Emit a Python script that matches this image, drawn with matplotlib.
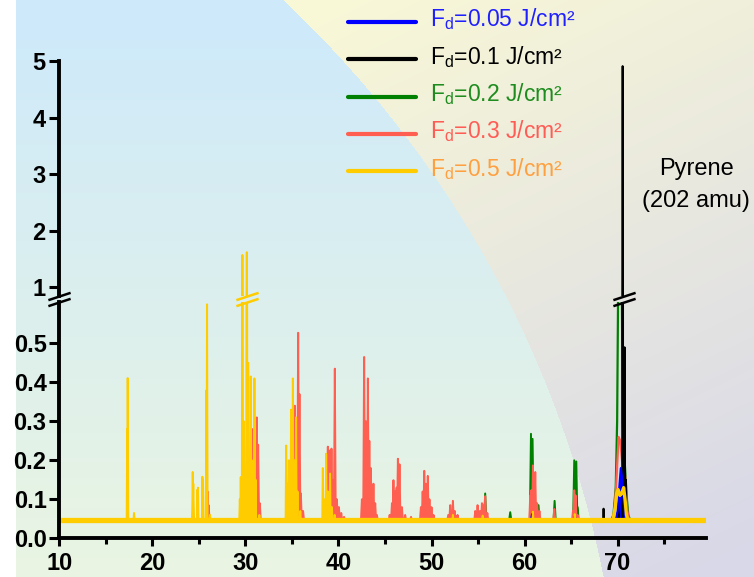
import numpy as np
import matplotlib
matplotlib.use("Agg")
import matplotlib.pyplot as plt

plt.rcParams['font.family'] = ['Liberation Sans', 'DejaVu Sans']
plt.rcParams['mathtext.fontset'] = 'custom'
plt.rcParams['mathtext.rm'] = 'Liberation Sans'

# ---- data ----
mass_range = [10, 79.5]

# narrow peaks: (mass, intensity)
blue_peaks = [(29.7, 0.058), (30.0, 0.062), (30.4, 0.057), (30.9, 0.055),
              (34.4, 0.056), (34.9, 0.06), (35.3, 0.057), (38.6, 0.06), (39.0, 0.06),
              (60.8, 0.062), (65.4, 0.057)]

black_peaks = [(68.49, 0.076), (70.1, 0.09), (70.54, 4.91), (70.75, 0.49), (70.9, 0.15)]

green_peaks = [(43.0, 0.08), (43.35, 0.072), (43.6, 0.065), (55.77, 0.115), (58.46, 0.067),
               (60.69, 0.268), (60.86, 0.255), (60.97, 0.13), (61.5, 0.085), (63.23, 0.096),
               (65.34, 0.2), (65.56, 0.197), (65.7, 0.08)]

red_peaks = [(25.94, 0.12), (26.05, 0.085),
             (30.3, 0.2), (30.75, 0.28), (31.23, 0.31), (31.37, 0.24), (31.55, 0.09),
             (35.31, 0.34), (35.67, 0.527), (35.81, 0.37), (35.96, 0.115), (36.2, 0.07),
             (38.86, 0.235), (39.03, 0.225), (39.25, 0.23), (39.45, 0.15), (39.61, 0.435),
             (39.83, 0.1), (40.05, 0.08), (40.3, 0.065), (40.6, 0.055),
             (42.52, 0.1), (42.76, 0.465), (42.95, 0.3), (43.16, 0.41), (43.32, 0.25),
             (43.48, 0.18), (43.76, 0.14), (43.95, 0.09), (44.13, 0.06),
             (45.5, 0.06), (45.75, 0.09), (45.91, 0.149), (46.1, 0.12), (46.25, 0.13),
             (46.39, 0.204), (46.56, 0.19), (46.82, 0.08), (47.17, 0.06), (47.8, 0.055),
             (48.86, 0.08), (49.05, 0.12), (49.22, 0.173), (49.4, 0.14), (49.6, 0.16),
             (49.78, 0.1), (50.0, 0.08), (50.22, 0.06),
             (51.8, 0.06), (52.01, 0.085), (52.3, 0.096), (52.5, 0.07), (52.8, 0.06),
             (54.7, 0.07), (54.95, 0.085), (55.2, 0.07), (55.42, 0.09), (55.6, 0.085),
             (55.77, 0.108), (56.0, 0.065),
             (60.61, 0.11), (60.72, 0.123), (60.9, 0.187), (61.15, 0.17), (61.35, 0.09), (61.6, 0.07),
             (63.2, 0.075),
             (65.2, 0.07), (65.34, 0.123), (65.48, 0.11), (65.7, 0.06)]

yellow_peaks = [(17.3, 0.28), (17.35, 0.411), (18.03, 0.065),
                (24.34, 0.17), (24.4, 0.14), (24.85, 0.125), (24.9, 0.13), (25.38, 0.158),
                (25.45, 0.15), (25.82, 0.38), (25.88, 0.6), (26.2, 0.06),
                (29.4, 0.1), (29.5, 0.157), (29.68, 1.57), (29.85, 0.3), (30.15, 1.62),
                (30.3, 0.45), (30.58, 0.415), (30.7, 0.2), (30.97, 0.41), (31.1, 0.15), (31.5, 0.06),
                (34.38, 0.238), (34.5, 0.14), (34.67, 0.2), (34.91, 0.33), (35.1, 0.41),
                (35.25, 0.2), (35.45, 0.31), (35.6, 0.12), (35.9, 0.07),
                (38.32, 0.18), (38.45, 0.1), (38.68, 0.217), (38.85, 0.12), (39.1, 0.166),
                (39.3, 0.08), (39.6, 0.06),
                (52.3, 0.06), (55.5, 0.058), (60.9, 0.068), (65.4, 0.062)]

# pyrene region traced as a profile: (mass, intensity)
blue_pyrene = [(69.8, 0.047), (70.0, 0.07), (70.15, 0.12), (70.35, 0.18), (70.5, 0.15),
               (70.65, 0.1), (70.8, 0.05), (70.9, 0.047)]
green_pyrene = [(69.3, 0.046), (69.55, 0.06), (69.8, 0.13), (69.95, 0.3), (70.06, 0.65),
                (70.45, 0.65), (70.55, 0.3), (70.7, 0.22), (70.85, 0.16), (71.0, 0.1),
                (71.15, 0.06), (71.35, 0.046)]
red_pyrene = [(69.5, 0.046), (69.7, 0.08), (69.85, 0.14), (69.98, 0.2), (70.11, 0.26),
              (70.29, 0.25), (70.47, 0.2), (70.65, 0.18), (70.82, 0.16), (70.95, 0.1),
              (71.05, 0.07), (71.25, 0.046)]
yellow_pyrene = [(69.5, 0.046), (69.75, 0.08), (69.9, 0.115), (70.05, 0.125), (70.25, 0.11),
                 (70.45, 0.115), (70.65, 0.13), (70.8, 0.1), (70.95, 0.06), (71.1, 0.046)]

labels = [r'F$_\mathregular{d}$=0.05 J/cm²', r'F$_\mathregular{d}$=0.1 J/cm²',
          r'F$_\mathregular{d}$=0.2 J/cm²', r'F$_\mathregular{d}$=0.3 J/cm²',
          r'F$_\mathregular{d}$=0.5 J/cm²']
line_colors = ['#0000ff', '#000000', '#008000', '#ff5f50', '#ffcc00']
text_colors = ['#2020ff', '#000000', '#1e8c1e', '#ff5c55', '#ffa040']
baselines = [0.0465, 0.046, 0.046, 0.046, 0.046]
half_widths = [0.12, 0.05, 0.12, 0.1, 0.06]
all_peaks = [blue_peaks, black_peaks, green_peaks, red_peaks, yellow_peaks]
all_pyrene = [blue_pyrene, None, green_pyrene, red_pyrene, yellow_pyrene]

low_yticks = [0.0, 0.1, 0.2, 0.3, 0.4, 0.5]
high_yticks = [1, 2, 3, 4, 5]
xticks_major = [10, 20, 30, 40, 50, 60, 70]
xticks_minor = [15, 25, 35, 45, 55, 65, 75]


def spectrum(peaks, base, hw):
    xs = [mass_range[0]]
    ys = [base]
    for m, h in sorted(peaks):
        xs += [m - hw, m, m + hw]
        ys += [base, h, base]
    xs.append(mass_range[1])
    ys.append(base)
    return xs, ys


W, H = 754, 577
fig = plt.figure(figsize=(W / 100, H / 100), dpi=100)

# background: blue/green on the left, yellow/grey beyond a big arc
bg = fig.add_axes([0, 0, 1, 1], zorder=0)
yy, xx = np.mgrid[0:H, 0:W]
inside = (xx + 457) ** 2 + (yy - 788) ** 2 < 1081 ** 2
t = (yy / H)[..., None]
left_col = (1 - t) * np.array([205, 233, 251]) + t * np.array([234, 245, 226])
s = np.clip((xx - 280) / (W - 280) * 0.3 + yy / H * 0.75, 0, 1)[..., None]
right_col = (1 - s) * np.array([250, 249, 214]) + s * np.array([216, 216, 232])
img = np.where(inside[..., None], left_col, right_col)
img[:, :16] = 255
bg.imshow(img.astype(np.uint8), extent=[0, 1, 0, 1], aspect='auto')
bg.axis('off')

left, width = 59.3 / W, 646.7 / W
ax_bot = fig.add_axes([left, (H - 538.3) / H, width, (538.3 - 302) / H], zorder=2)
ax_top = fig.add_axes([left, (H - 296) / H, width, (296 - 61) / H], zorder=2)

order = [2, 3, 1, 0, 4]
base_lw = [3.4, 1.5, 1.5, 1.8, 3.8]
for ax in (ax_bot, ax_top):
    ax.set_facecolor('none')
    for i in order:
        c = line_colors[i]
        xs, ys = spectrum(all_peaks[i], baselines[i], half_widths[i])
        if i in (0, 3):
            ax.fill(xs, ys, color=c, lw=0)
        ax.plot(mass_range, [baselines[i]] * 2, color=c, lw=base_lw[i])
        ax.plot(xs, ys, color=c, lw=1.4)
        prof = all_pyrene[i]
        if prof is not None:
            px = [p[0] for p in prof]
            py = [p[1] for p in prof]
            if i == 0:
                ax.fill(px, py, color=c, lw=0)
            ax.plot(px, py, color=c, lw=1.6 if i != 4 else 2.4)
    ax.set_xlim(mass_range)
    for sp in ('top', 'right'):
        ax.spines[sp].set_visible(False)
    ax.spines['left'].set_linewidth(2.8)

ax_bot.set_ylim(0, 0.606)
ax_top.set_ylim(0.846, 5.0)

ax_bot.spines['bottom'].set_linewidth(2.8)
ax_bot.set_xticks(xticks_major, labels=[str(v) for v in xticks_major], fontweight='bold', fontsize=17)
ax_bot.set_xticks(xticks_minor, minor=True)
ax_bot.set_yticks(low_yticks, labels=['%.1f' % v for v in low_yticks], fontweight='bold', fontsize=17)
ax_bot.tick_params(axis='x', which='major', length=6, width=2.2, pad=4)
ax_bot.tick_params(axis='x', which='minor', length=4.3, width=2.2)
ax_bot.tick_params(axis='y', which='major', length=7.5, width=2.2, pad=1.7)

ax_top.spines['bottom'].set_visible(False)
ax_top.set_xticks([])
ax_top.set_yticks(high_yticks, labels=[str(v) for v in high_yticks], fontweight='bold', fontsize=17)
ax_top.tick_params(axis='y', which='major', length=7.5, width=2.2, pad=2.5)

# break marks
mk = dict(marker=[(-1, -0.33), (1, 0.33)], markersize=16, linestyle='none',
          mew=1.8, clip_on=False, zorder=5)
ax_top.plot([0], [0], transform=ax_top.transAxes, color='k', mec='k', **mk)
ax_bot.plot([0], [1], transform=ax_bot.transAxes, color='k', mec='k', **mk)
ax_top.plot([30.2], [0], transform=ax_top.get_xaxis_transform(), mec=line_colors[4], **mk)
ax_bot.plot([30.2], [1], transform=ax_bot.get_xaxis_transform(), mec=line_colors[4], **mk)
ax_top.plot([70.65], [0], transform=ax_top.get_xaxis_transform(), mec='k', **mk)
ax_bot.plot([70.65], [1], transform=ax_bot.get_xaxis_transform(), mec='k', **mk)

ax_top.text(78.46, 2.984, 'Pyrene', ha='center', va='baseline', fontsize=17, clip_on=False)
ax_top.text(78.46, 2.424, '(202 amu)', ha='center', va='baseline', fontsize=17, clip_on=False)

# legend drawn by hand
for i, lab in enumerate(labels):
    y_line = 22 + 37.3 * i
    fig.add_artist(plt.Line2D([348 / W, 416 / W], [1 - y_line / H] * 2, color=line_colors[i],
                              lw=3, solid_capstyle='round', zorder=6))
    fig.text(430 / W, 1 - (y_line + 4.5) / H, lab, color=text_colors[i], fontsize=16.5,
             va='baseline', ha='left', zorder=6)

fig.savefig('out.png', dpi=100)
